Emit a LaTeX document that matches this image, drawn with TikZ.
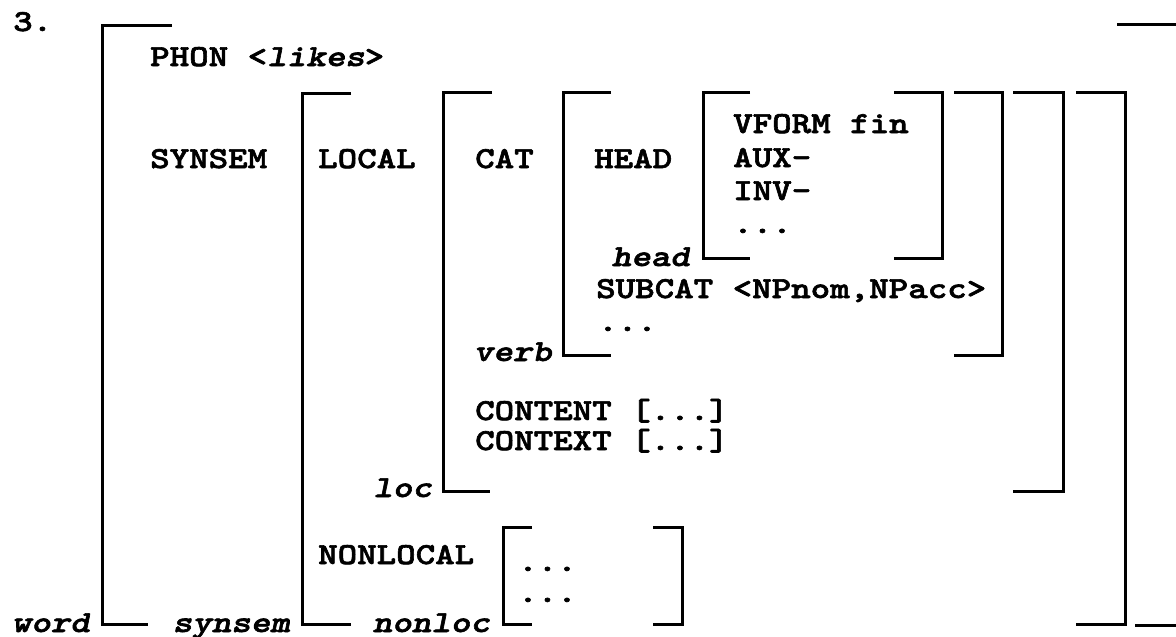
\documentclass[tikz,border=0pt]{standalone}
\usepackage{fontspec}
% heavy typewriter face, widened to the column pitch of the matrix
\newfontfamily\avmfamily{lmmonolt10-bold.otf}[
  FakeStretch=1.218,
  FakeBold=2,
  ItalicFont=lmmonolt10-boldoblique.otf]
\newcommand\avmfont{\fontsize{30.5}{34}\selectfont\avmfamily}
\begin{document}
\begin{tikzpicture}[x=1pt,y=-1pt,
  attr/.style={anchor=base west, inner sep=0pt, font=\avmfont},
  tagname/.style={anchor=base east, inner sep=0pt, font=\avmfont\itshape},
  brk/.style={line width=3pt, line cap=butt, line join=miter}]
\path[use as bounding box, clip] (0,0) rectangle (1176,637);
\fill[white] (0,0) rectangle (1176,637);

% example number
\node[attr] (num) at (13,31) {3.};

% word
\node[attr] (phon) at (150,66) {PHON <\textit{likes}>};
\node[attr] (synsemA) at (150,168) {SYNSEM};
\node[tagname] (wordT) at (90,632) {word};

% synsem
\node[attr] (localA) at (318,168) {LOCAL};
\node[attr] (nonlocA) at (318,564) {NONLOCAL};
\node[tagname] (synsemT) at (290,632) {synsem};

% loc
\node[attr] (catA) at (475,168) {CAT};
\node[attr] (contentA) at (475,420) {CONTENT [...]};
\node[attr] (contextA) at (475,450) {CONTEXT [...]};
\node[tagname] (locT) at (432,497) {loc};

% verb
\node[attr] (headA) at (594,168) {HEAD};
\node[attr] (subcatA) at (596,298) {SUBCAT <NPnom,NPacc>};
\node[attr] (verbDots) at (598,331) {...};
\node[tagname] (verbT) at (552,361) {verb};

% head
\node[attr] (vformA) at (733,133) {VFORM fin};
\node[attr] (auxA) at (733,167) {AUX-};
\node[attr] (invA) at (733,200) {INV-};
\node[attr] (headDots) at (733,233) {...};
\node[tagname] (headT) at (690,266) {head};

% nonloc
\node[attr] (nlDotsA) at (518,571) {...};
\node[attr] (nlDotsB) at (518,602) {...};
\node[tagname] (nonlocT) at (490,632) {nonloc};

% left brackets
\draw[brk] (172,25) -- (102,25) -- (102,624) -- (148,624);
\draw[brk] (351,93) -- (302,93) -- (302,624) -- (351,624);
\draw[brk] (492,92) -- (443,92) -- (443,491) -- (490,491);
\draw[brk] (611,92) -- (563,92) -- (563,355) -- (611,355);
\draw[brk] (750,92) -- (703,92) -- (703,258) -- (750,258);
\draw[brk] (532,527) -- (503,527) -- (503,624) -- (532,624);

% right brackets
\draw[brk] (894,92) -- (942,92) -- (942,258) -- (894,258);
\draw[brk] (954,92) -- (1002,92) -- (1002,355) -- (954,355);
\draw[brk] (1013,92) -- (1063,92) -- (1063,491) -- (1013,491);
\draw[brk] (1076,92) -- (1125,92) -- (1125,624) -- (1076,624);
\draw[brk] (1117,24) -- (1179,24) -- (1179,625) -- (1135,625);
\draw[brk] (653,527) -- (682,527) -- (682,624) -- (653,624);
\end{tikzpicture}
\end{document}
